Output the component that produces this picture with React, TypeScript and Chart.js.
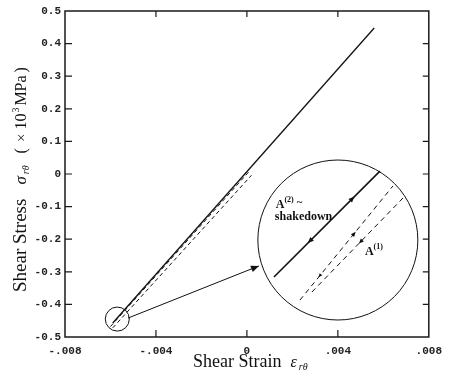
import React, { useEffect, useRef } from "react";
import { Chart, registerables } from "chart.js";

Chart.register(...registerables);

// Axis ticks
const strainTicks = [-0.008, -0.004, 0, 0.004, 0.008];
const strainTickLabels = ["-.008", "-.004", "0", ".004", ".008"];
const stressTicks = [0.5, 0.4, 0.3, 0.2, 0.1, 0, -0.1, -0.2, -0.3, -0.4, -0.5];
const stressTickLabels = ["0.5", "0.4", "0.3", "0.2", "0.1", "0", "-0.1", "-0.2", "-0.3", "-0.4", "-0.5"];

// Main curves (strain, stress x10^3 MPa)
const solidStrain = [-0.0059, 0.0056];
const solidStress = [-0.457, 0.448];
const dashAStrain = [-0.006, 0.0001];
const dashAStress = [-0.468, 0.008];
const dashBStrain = [-0.0059, 0.0002];
const dashBStress = [-0.472, -0.004];

// Magnified inset (drawn inside the zoom circle)
const insetSolidStrain = [0.00119, 0.00585];
const insetSolidStress = [-0.316, 0.009];
const insetDashAStrain = [0.00233, 0.00642];
const insetDashAStress = [-0.387, -0.037];
const insetDashBStrain = [0.00286, 0.00695];
const insetDashBStress = [-0.362, -0.0675];

// Connector from the small circle to the zoom circle
const connectorStrain = [-0.00523, 0.00053];
const connectorStress = [-0.442, -0.282];

// Circles (centres)
const zoomCircleStrain = [0.004];
const zoomCircleStress = [-0.2025];
const sourceCircleStrain = [-0.0057];
const sourceCircleStress = [-0.445];

// Arrow markers: [dataset index, fraction along segment, direction]
const arrowSeries = [3, 3, 4, 5, 4, 6];
const arrowFraction = [0.76, 0.32, 0.6, 0.505, 0.2, 1.0];
const arrowDirection = [1, -1, 1, -1, -1, 1];
const arrowSize = [6, 6, 5, 5, 4, 8];

// Labels in the inset
const labelStrain = [0.00127, 0.00123, 0.00519];
const labelStress = [-0.104, -0.141, -0.248];

const pts = (xs: number[], ys: number[]) => xs.map((x, i) => ({ x, y: ys[i] }));

function drawRich(ctx: CanvasRenderingContext2D, x: number, y: number, rot: number, segs: any[]) {
  ctx.save();
  ctx.translate(x, y);
  ctx.rotate(rot);
  ctx.textBaseline = "alphabetic";
  ctx.textAlign = "left";
  let cx = 0;
  for (const s of segs) {
    ctx.font = s.font;
    cx += s.pre || 0;
    ctx.fillText(s.text, cx, s.dy || 0);
    cx += ctx.measureText(s.text).width;
  }
  ctx.restore();
}

const framePlugin = {
  id: "frame",
  afterDraw(chart: any) {
    const { ctx, chartArea: a, scales } = chart;
    const xs = scales.x;
    const ys = scales.y;
    ctx.save();
    ctx.strokeStyle = "#1a1a1a";
    ctx.lineWidth = 1.5;
    ctx.strokeRect(a.left, a.top, a.right - a.left, a.bottom - a.top);
    ctx.lineWidth = 1.2;
    ctx.beginPath();
    strainTicks.forEach((v) => {
      const px = xs.getPixelForValue(v);
      if (px <= a.left + 1 || px >= a.right - 1) return;
      ctx.moveTo(px, a.bottom);
      ctx.lineTo(px, a.bottom - 7);
      ctx.moveTo(px, a.top);
      ctx.lineTo(px, a.top + 6);
    });
    stressTicks.forEach((v) => {
      const py = ys.getPixelForValue(v);
      if (py <= a.top + 1 || py >= a.bottom - 1) return;
      ctx.moveTo(a.left, py);
      ctx.lineTo(a.left + 7, py);
      ctx.moveTo(a.right, py);
      ctx.lineTo(a.right - 6, py);
    });
    ctx.stroke();

    // arrowheads
    ctx.fillStyle = "#111";
    arrowSeries.forEach((di, i) => {
      const data = chart.data.datasets[di].data;
      const p0 = { x: xs.getPixelForValue(data[0].x), y: ys.getPixelForValue(data[0].y) };
      const p1 = { x: xs.getPixelForValue(data[1].x), y: ys.getPixelForValue(data[1].y) };
      const t = arrowFraction[i];
      const px = p0.x + (p1.x - p0.x) * t;
      const py = p0.y + (p1.y - p0.y) * t;
      let dx = p1.x - p0.x;
      let dy = p1.y - p0.y;
      const len = Math.hypot(dx, dy);
      dx = (dx / len) * arrowDirection[i];
      dy = (dy / len) * arrowDirection[i];
      const s = arrowSize[i];
      const w = s * 0.42;
      ctx.beginPath();
      ctx.moveTo(px, py);
      ctx.lineTo(px - dx * s - dy * w, py - dy * s + dx * w);
      ctx.lineTo(px - dx * s + dy * w, py - dy * s - dx * w);
      ctx.closePath();
      ctx.fill();
    });

    // inset labels
    ctx.fillStyle = "#111";
    const lx = labelStrain.map((v) => xs.getPixelForValue(v));
    const ly = labelStress.map((v) => ys.getPixelForValue(v));
    const serif = '"Liberation Serif", "Times New Roman", serif';
    drawRich(ctx, lx[0], ly[0], 0, [
      { text: "A", font: `bold 12px ${serif}` },
      { text: "(2)", font: `bold 8px ${serif}`, dy: -6 },
      { text: "~", font: `bold 11px ${serif}`, pre: 3, dy: -3 },
    ]);
    drawRich(ctx, lx[1], ly[1], 0, [{ text: "shakedown", font: `bold 12px ${serif}` }]);
    drawRich(ctx, lx[2], ly[2], 0, [
      { text: "A", font: `bold 12px ${serif}` },
      { text: "(1)", font: `bold 8px ${serif}`, dy: -6 },
    ]);

    // axis titles
    drawRich(ctx, 193, 367, 0, [
      { text: "Shear Strain", font: `18px ${serif}` },
      { text: "ε", font: `italic 16px ${serif}`, pre: 9 },
      { text: "rθ", font: `italic 10px ${serif}`, pre: 2, dy: 3 },
    ]);
    drawRich(ctx, 26, 292, -Math.PI / 2, [
      { text: "Shear Stress", font: `19px ${serif}` },
      { text: "σ", font: `italic 17px ${serif}`, pre: 14 },
      { text: "rθ", font: `italic 10px ${serif}`, pre: 2, dy: 3 },
      { text: "(", font: `16px ${serif}`, pre: 12 },
      { text: "×", font: `15px ${serif}`, pre: 6 },
      { text: "10", font: `16px ${serif}`, pre: 4 },
      { text: "3", font: `10px ${serif}`, pre: 1, dy: -7 },
      { text: "MPa", font: `16px ${serif}`, pre: 2 },
      { text: ")", font: `16px ${serif}`, pre: 3 },
    ]);
    ctx.restore();
  },
};

export default function App() {
  const ref = useRef<HTMLCanvasElement>(null);
  useEffect(() => {
    if (!ref.current) return;
    const black = "#111";
    const line = (xs: number[], ys: number[], extra: any = {}) => ({
      data: pts(xs, ys),
      borderColor: black,
      borderWidth: 1.2,
      pointRadius: 0,
      fill: false,
      showLine: true,
      clip: false,
      ...extra,
    });
    const chart = new Chart(ref.current, {
      type: "scatter",
      data: {
        datasets: [
          line(solidStrain, solidStress, { borderWidth: 1.3 }),
          line(dashAStrain, dashAStress, { borderDash: [4, 3], borderWidth: 1 }),
          line(dashBStrain, dashBStress, { borderDash: [4, 3], borderWidth: 1 }),
          line(insetSolidStrain, insetSolidStress, { borderWidth: 1.6 }),
          line(insetDashAStrain, insetDashAStress, { borderDash: [5, 4], borderWidth: 1 }),
          line(insetDashBStrain, insetDashBStress, { borderDash: [5, 4], borderWidth: 1 }),
          line(connectorStrain, connectorStress, { borderWidth: 1 }),
          {
            data: pts(zoomCircleStrain, zoomCircleStress),
            showLine: false,
            clip: false,
            pointRadius: 80,
            pointStyle: "circle",
            pointBackgroundColor: "rgba(0,0,0,0)",
            pointBorderColor: black,
            pointBorderWidth: 1,
          },
          {
            data: pts(sourceCircleStrain, sourceCircleStress),
            showLine: false,
            clip: false,
            pointRadius: 12,
            pointStyle: "circle",
            pointBackgroundColor: "rgba(0,0,0,0)",
            pointBorderColor: black,
            pointBorderWidth: 1,
          },
        ],
      },
      options: {
        responsive: false,
        animation: false,
        events: [],
        layout: { autoPadding: false, padding: { left: 0, top: 11, right: 20, bottom: 0 } },
        plugins: { legend: { display: false }, tooltip: { enabled: false } },
        scales: {
          x: {
            type: "linear",
            min: -0.008,
            max: 0.008,
            afterFit: (s: any) => {
              s.height = 44;
            },
            afterBuildTicks: (s: any) => {
              s.ticks = strainTicks.map((v) => ({ value: v }));
            },
            ticks: {
              callback: (_v: any, i: number) => strainTickLabels[i],
              font: { family: '"Liberation Mono", monospace', size: 11, weight: "bold" },
              color: "#222",
              padding: 8,
              maxRotation: 0,
              autoSkip: false,
            },
            grid: { display: false, drawTicks: false },
            border: { display: false },
          },
          y: {
            type: "linear",
            min: -0.5,
            max: 0.5,
            afterFit: (s: any) => {
              s.width = 65;
            },
            afterBuildTicks: (s: any) => {
              s.ticks = stressTicks.slice().reverse().map((v) => ({ value: v }));
            },
            ticks: {
              callback: (_v: any, i: number) => stressTickLabels.slice().reverse()[i],
              font: { family: '"Liberation Mono", monospace', size: 11, weight: "bold" },
              color: "#222",
              padding: 4,
              autoSkip: false,
            },
            grid: { display: false, drawTicks: false },
            border: { display: false },
          },
        },
      },
      plugins: [framePlugin],
    } as any);
    return () => chart.destroy();
  }, []);
  return (
    <div style={{ position: "fixed", left: 0, top: 0, width: 450, height: 381, background: "#fff" }}>
      <canvas ref={ref} width={450} height={381} style={{ display: "block" }} />
    </div>
  );
}
